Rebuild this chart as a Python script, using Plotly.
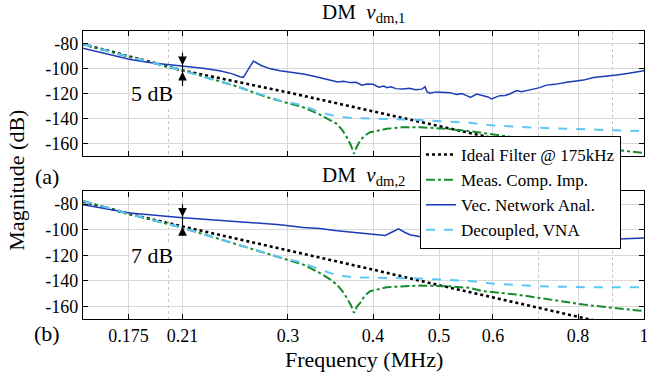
import math
import plotly.graph_objects as go

# ---------------- data ----------------
# Panel (a): DM v_dm,1
f_ideal = [0.15, 0.175, 0.21, 0.3, 0.4, 0.5, 0.6, 0.7, 0.8, 0.9, 1.0]
ideal_1 = [-80.5, -90.3, -101.5, -119, -134, -146, -155.5, -164, -171, -177, -182]
ideal_2 = [-78, -87.5, -97.5, -116, -131.3, -143.5, -153.2, -161.5, -169, -175, -180]

f_vna_1 = [0.15, 0.165, 0.176, 0.19, 0.208, 0.225, 0.238, 0.248, 0.255, 0.258, 0.262,
           0.267, 0.274, 0.282, 0.292, 0.305, 0.316, 0.33, 0.345, 0.355, 0.362, 0.37,
           0.378, 0.385, 0.392, 0.4, 0.408, 0.415, 0.419, 0.425, 0.432, 0.443, 0.452,
           0.462, 0.472, 0.477, 0.48, 0.485, 0.495, 0.507, 0.519, 0.53, 0.54, 0.549,
           0.556, 0.568, 0.58, 0.59, 0.597, 0.605, 0.614, 0.625, 0.635, 0.65, 0.661,
           0.68, 0.703, 0.719, 0.74, 0.77, 0.79, 0.815, 0.843, 0.87, 0.912, 0.95, 1.0]
vna_1 = [-83.7, -89, -92.8, -95.5, -97.7, -99.8, -101.7, -104, -106.5, -107, -101,
         -94, -97.5, -100, -101.7, -103.2, -104.4, -106.5, -108.8, -110.7, -110.2, -111.2,
         -111.0, -113.3, -112.4, -112.5, -114.8, -113.9, -115.2, -114.6, -116.0, -116.3, -115.7,
         -116.8, -116.4, -114.5, -118.5, -119.7, -118.6, -119.0, -119.2, -120.6, -120.0, -121.6,
         -123.0, -120.3, -121.5, -122.6, -124.3, -122.8, -121.6, -121.4, -120.3, -117.5, -118.4,
         -117.0, -115.2, -113.2, -112.6, -111.0, -110.3, -109.2, -107.2, -106.6, -105.2, -103.8, -101.7]

f_dec_1 = [0.15, 0.175, 0.21, 0.25, 0.282, 0.292, 0.316, 0.334, 0.354, 0.375, 0.419,
           0.469, 0.555, 0.6, 0.703, 0.815, 1.0]
dec_1 = [-80.5, -90.5, -101.5, -113.5, -122.9, -125.5, -129.5, -134.8, -138.3, -139.6, -140.2,
         -141, -143.3, -145.4, -147.3, -148.6, -150]

f_meas_1 = [0.15, 0.175, 0.21, 0.25, 0.282, 0.3, 0.316, 0.334, 0.345, 0.354, 0.361, 0.366,
            0.371, 0.375, 0.379, 0.383, 0.389, 0.396, 0.419, 0.443, 0.469, 0.513, 0.555,
            0.58, 0.614, 0.7, 0.8, 0.9, 1.0]
meas_1 = [-80.5, -90.5, -101.5, -113.5, -123.5, -127.5, -130.9, -136.7, -140.5, -144.1, -149.5,
          -154.7, -161, -168, -162, -157.4, -153.5, -150.8, -148.1, -146.8, -146.8, -148.1,
          -150, -151.5, -153.4, -157.5, -161.5, -164.5, -167.4]

# Panel (b): DM v_dm,2
f_vna_2 = [0.15, 0.176, 0.208, 0.25, 0.292, 0.316, 0.334, 0.354, 0.38, 0.4, 0.417, 0.426,
           0.436, 0.445, 0.453, 0.474, 0.5, 0.519, 0.54, 0.56, 0.58, 0.6, 0.62, 0.65, 0.67,
           0.7, 0.727, 0.76, 0.79, 0.815, 0.86, 0.9, 0.95, 1.0]
vna_2 = [-80.5, -87, -90.4, -93.5, -96.1, -98.2, -99, -100.8, -102.5, -103.5, -104.5, -102,
         -99.3, -102, -104, -106, -107.5, -107.9, -108.6, -108.3, -108.9, -108.5, -108.8,
         -108.2, -108.7, -108.3, -108.4, -108.6, -108.0, -107.9, -108.3, -107.4, -107.2, -106.6]

f_dec_2 = [0.15, 0.175, 0.21, 0.25, 0.282, 0.292, 0.316, 0.334, 0.354, 0.375, 0.419,
           0.469, 0.52, 0.555, 0.6, 0.703, 0.815, 1.0]
dec_2 = [-77.5, -87.5, -98.5, -111, -119.1, -121.6, -126.1, -131.3, -135.7, -137.3, -137.8,
         -138.3, -139.5, -140.2, -142.3, -144.3, -145.1, -145.1]

f_meas_2 = [0.15, 0.175, 0.21, 0.25, 0.282, 0.3, 0.316, 0.334, 0.345, 0.354, 0.361, 0.366,
            0.371, 0.375, 0.379, 0.383, 0.389, 0.396, 0.419, 0.469, 0.513, 0.555, 0.58,
            0.65, 0.727, 0.815, 0.9, 1.0]
meas_2 = [-77.5, -87.5, -98.5, -111, -119.6, -124, -127.4, -133.9, -138.5, -143, -148.5,
          -153.4, -159, -165.2, -160, -157.3, -151.5, -148.2, -145.1, -143.8, -144.3, -145.6,
          -148.2, -150.8, -154.8, -158.7, -161.3, -163.8]

x_tickvals = [0.175, 0.21, 0.3, 0.4, 0.5, 0.6, 0.8, 1.0]
x_ticktext = ["0.175", "0.21", "0.3", "0.4", "0.5", "0.6", "0.8", "1"]
x_dotted = [0.2, 0.7, 0.9]
y_tickvals = [-80, -100, -120, -140, -160]
y_ticktext = ["-80", "-100", "-120", "-140", "-160"]

# difference markers: (panel, freq, top tail dB, top head dB, bottom head dB, bottom tail dB, label)
diff_marks = [(1, 0.21, -87.2, -97.3, -102.5, -114.0, "5 dB"),
              (2, 0.21, -80.0, -89.8, -97.8, -104.5, "7 dB")]

# ---------------- styling ----------------
FONT = "Liberation Serif"
C_BLACK = "#000000"
C_GREEN = "#178a2b"
C_BLUE = "#1b3bb8"
C_CYAN = "#5cc6f6"

fig = go.Figure()

def add_panel(row, ideal, fm, meas, fv, vna, fd, dec):
    xa = "x" if row == 1 else "x2"
    ya = "y" if row == 1 else "y2"
    show = row == 1
    fig.add_trace(go.Scatter(x=f_ideal, y=ideal, mode="lines", name="Ideal Filter @ 175kHz",
                             line=dict(color=C_BLACK, width=2.6, dash="dot"),
                             xaxis=xa, yaxis=ya, showlegend=show))
    fig.add_trace(go.Scatter(x=fm, y=meas, mode="lines", name="Meas. Comp. Imp.",
                             line=dict(color=C_GREEN, width=2, dash="dashdot"),
                             xaxis=xa, yaxis=ya, showlegend=show))
    fig.add_trace(go.Scatter(x=fv, y=vna, mode="lines", name="Vec. Network Anal.",
                             line=dict(color=C_BLUE, width=1.5),
                             xaxis=xa, yaxis=ya, showlegend=show))
    fig.add_trace(go.Scatter(x=fd, y=dec, mode="lines", name="Decoupled, VNA",
                             line=dict(color=C_CYAN, width=2, dash="dash"),
                             xaxis=xa, yaxis=ya, showlegend=show))

add_panel(1, ideal_1, f_meas_1, meas_1, f_vna_1, vna_1, f_dec_1, dec_1)
add_panel(2, ideal_2, f_meas_2, meas_2, f_vna_2, vna_2, f_dec_2, dec_2)

GRID = "#d9d9d9"
xcommon = dict(type="log", range=[math.log10(0.15), 0], tickmode="array",
               tickvals=x_tickvals, ticktext=x_ticktext, ticks="inside", ticklen=5,
               tickcolor="black", showline=True, linecolor="black", linewidth=1.2,
               mirror="ticks", showgrid=True, gridcolor=GRID, gridwidth=1,
               zeroline=False, ticklabeloverflow="allow",
               minor=dict(tickmode="array", tickvals=x_dotted, showgrid=True,
                          gridcolor="#c4c4c4", griddash="dot", gridwidth=1, ticks=""),
               tickfont=dict(family=FONT, size=18, color="black"))
ycommon = dict(range=[-170, -70], tickmode="array", tickvals=y_tickvals,
               ticktext=y_ticktext, ticks="inside", ticklen=5, tickcolor="black",
               showline=True, linecolor="black", linewidth=1.2, mirror="ticks",
               showgrid=True, gridcolor=GRID, gridwidth=1, zeroline=False,
               tickfont=dict(family=FONT, size=18, color="black"))

fig.update_layout(
    width=647, height=378,
    margin=dict(l=83, r=3, t=31, b=59, autoexpand=False),
    paper_bgcolor="white", plot_bgcolor="white",
    font=dict(family=FONT, size=18, color="black"),
    xaxis=dict(**xcommon, anchor="y", showticklabels=False),
    yaxis=dict(**ycommon, domain=[0.565, 1.0], anchor="x"),
    xaxis2=dict(**xcommon, anchor="y2", matches="x"),
    yaxis2=dict(**ycommon, domain=[0.0, 0.443], anchor="x2"),
    legend=dict(x=0.6007, y=0.6354, xanchor="left", yanchor="top",
                bgcolor="white", bordercolor="black", borderwidth=1,
                font=dict(family=FONT, size=17, color="black"),
                tracegroupgap=0, itemwidth=30),
    showlegend=True,
)

ann = []
ann.append(dict(text="DM  <i>v</i><sub>dm,1</sub>", x=0.5, y=1.063, xref="paper", yref="paper",
                showarrow=False, font=dict(size=21), xanchor="center", yanchor="middle"))
ann.append(dict(text="DM  <i>v</i><sub>dm,2</sub>", x=0.5, y=0.4965, xref="paper", yref="paper",
                showarrow=False, font=dict(size=21), xanchor="center", yanchor="middle"))
ann.append(dict(text="(a)", x=-0.064, y=0.4965, xref="paper", yref="paper",
                showarrow=False, font=dict(size=22), xanchor="center", yanchor="middle"))
ann.append(dict(text="(b)", x=-0.064, y=-0.05, xref="paper", yref="paper",
                showarrow=False, font=dict(size=22), xanchor="center", yanchor="middle"))
ann.append(dict(text="Magnitude (dB)", x=-0.118, y=0.483, xref="paper", yref="paper",
                showarrow=False, font=dict(size=22), textangle=-90,
                xanchor="center", yanchor="middle"))
ann.append(dict(text="Frequency (MHz)", x=0.5, y=-0.142, xref="paper", yref="paper",
                showarrow=False, font=dict(size=22), xanchor="center", yanchor="middle"))

shapes = []
for panel, f, t_tail, t_head, b_head, b_tail, label in diff_marks:
    xr = "x" if panel == 1 else "x2"
    yr = "y" if panel == 1 else "y2"
    lx = math.log10(f)
    ann.append(dict(text=label, x=math.log10(0.1895), y=-120, xref=xr, yref=yr,
                    showarrow=False, font=dict(size=22), xanchor="center", yanchor="middle",
                    bgcolor="white", borderpad=0))
    for tail, head in [(t_tail, t_head), (b_tail, b_head)]:
        ann.append(dict(text="", x=lx, y=head, ax=lx, ay=tail,
                        xref=xr, yref=yr, axref=xr, ayref=yr, showarrow=True,
                        arrowhead=2, arrowsize=1.6, arrowwidth=1.1, arrowcolor="black",
                        standoff=0, startstandoff=0))
    shapes.append(dict(type="line", xref=xr, yref=yr, x0=f, x1=f, y0=t_tail, y1=b_tail,
                       line=dict(color="black", width=1.1)))

fig.update_layout(annotations=ann, shapes=shapes)

fig.write_html("out.html")
